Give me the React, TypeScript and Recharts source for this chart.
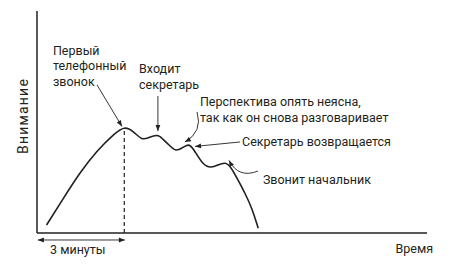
import React from 'react';
import { LineChart, Line, XAxis, YAxis, ReferenceLine, ReferenceDot } from 'recharts';

// кривая внимания: время (минуты) и уровень внимания (0..100)
const time = [0.33, 0.91, 1.48, 2.06, 2.63, 3.01, 3.32, 3.61, 3.86, 4.14, 4.34, 4.59, 4.79, 5.0, 5.21, 5.41, 5.72, 6.0, 6.24, 6.48, 6.69, 6.93, 7.17, 7.41, 7.63];
const attention = [3.6, 15.6, 26.9, 36.6, 44.1, 47.2, 45.6, 42.6, 43.0, 43.9, 42.3, 39.2, 37.4, 38.3, 39.6, 37.4, 31.5, 29.7, 30.6, 31.4, 29.3, 23.9, 17.9, 10.8, 2.1];

const firstCall = { x: 3.01, y: 47.2 };

const noteTexts = [
  ['Первый', 'телефонный', 'звонок'],
  ['Входит', 'секретарь'],
  ['Перспектива опять неясна,', 'так как он снова разговаривает'],
  ['Секретарь возвращается'],
  ['Звонит начальник'],
];
const noteX = [0.55, 3.52, 5.62, 7.07, 7.79];
const noteY = [80.2, 71.9, 57.0, 39.2, 22.1];

// стрелки: начало -> конец, изгиб
const arrowFrom = [
  { x: 2.07, y: 66.7 },
  { x: 4.17, y: 61.7 },
  { x: 5.52, y: 54.5 },
  { x: 7.0, y: 41.0 },
  { x: 7.62, y: 27.9 },
];
const arrowTo = [
  { x: 2.93, y: 48.0 },
  { x: 4.17, y: 45.9 },
  { x: 5.1, y: 41.0 },
  { x: 5.45, y: 39.0 },
  { x: 6.62, y: 32.7 },
];
const arrowBend = [0, 0, 0.4, 0, 0.45];

const spanLabel = '3 минуты';
const spanFrom = 0.03;
const spanTo = 3.03;
const xTitle = 'Время';
const yTitle = 'Внимание';

const data = time.map((t, i) => ({ t, v: attention[i] }));

const INK = '#231f20';
const FONT = 'Roboto, sans-serif';

function head(x: number, y: number, fx: number, fy: number) {
  const dx = x - fx;
  const dy = y - fy;
  const len = Math.sqrt(dx * dx + dy * dy) || 1;
  const ux = dx / len;
  const uy = dy / len;
  const L = 6;
  const W = 2.4;
  const bx = x - ux * L;
  const by = y - uy * L;
  return `M${x},${y} L${bx - uy * W},${by + ux * W} L${bx + uy * W},${by - ux * W} Z`;
}

const Arrow = (props: any) => {
  const { x1, y1, x2, y2, bend = 0, both = false } = props;
  if ([x1, y1, x2, y2].some((v) => v == null || isNaN(v))) return null;
  const mx = (x1 + x2) / 2;
  const my = (y1 + y2) / 2;
  const dx = x2 - x1;
  const dy = y2 - y1;
  const cx = mx + dy * bend;
  const cy = my - dx * bend;
  const d = bend ? `M${x1},${y1} Q${cx},${cy} ${x2},${y2}` : `M${x1},${y1} L${x2},${y2}`;
  return (
    <g>
      <path d={d} fill="none" stroke={INK} strokeWidth={0.9} />
      <path d={head(x2, y2, bend ? cx : x1, bend ? cy : y1)} fill={INK} />
      {both && <path d={head(x1, y1, x2, y2)} fill={INK} />}
    </g>
  );
};

const Note = ({ cx, cy, lines, anchor = 'start', rotate = false, size = 12.5, spacing = 0 }: any) => {
  if (cx == null || cy == null) return null;
  return (
    <text
      x={cx}
      y={cy}
      fill={INK}
      fontFamily={FONT}
      fontSize={size}
      letterSpacing={spacing}
      textAnchor={anchor}
      dominantBaseline={rotate ? 'central' : 'auto'}
      transform={rotate ? `rotate(-90 ${cx} ${cy})` : undefined}
    >
      {lines.map((s: string, i: number) => (
        <tspan key={i} x={cx} dy={i === 0 ? 0 : 15.5}>
          {s}
        </tspan>
      ))}
    </text>
  );
};

export default function App() {
  return (
    <div style={{ position: 'absolute', left: 0, top: 0, width: 464, height: 277, background: '#fff' }}>
      <LineChart width={464} height={277} data={data} margin={{ top: 11, right: 37, bottom: 44, left: 37 }}>
        <XAxis type="number" dataKey="t" domain={[0, 13.45]} hide />
        <YAxis type="number" domain={[0, 100]} hide />
        <ReferenceLine x={0} stroke={INK} strokeWidth={1.5} />
        <ReferenceLine y={0} stroke={INK} strokeWidth={1.5} />
        <ReferenceLine
          segment={[{ x: firstCall.x, y: 0 }, firstCall]}
          stroke={INK}
          strokeWidth={1.2}
          strokeDasharray="4 3"
        />
        <Line
          type="natural"
          dataKey="v"
          stroke={INK}
          strokeWidth={1.6}
          dot={false}
          activeDot={false}
          isAnimationActive={false}
        />
        {arrowFrom.map((a, i) => (
          <ReferenceLine
            key={'a' + i}
            segment={[a, arrowTo[i]]}
            ifOverflow="visible"
            shape={(p: any) => <Arrow {...p} bend={arrowBend[i]} />}
          />
        ))}
        <ReferenceLine
          segment={[{ x: spanFrom, y: -3.15 }, { x: spanTo, y: -3.15 }]}
          ifOverflow="visible"
          shape={(p: any) => <Arrow {...p} both />}
        />
        {noteTexts.map((lines, i) => (
          <ReferenceDot
            key={'n' + i}
            x={noteX[i]}
            y={noteY[i]}
            ifOverflow="visible"
            shape={(p: any) => <Note {...p} lines={lines} />}
          />
        ))}
        <ReferenceDot x={0.45} y={-9.5} ifOverflow="visible" shape={(p: any) => <Note {...p} lines={[spanLabel]} />} />
        <ReferenceDot
          x={13.66}
          y={-9.0}
          ifOverflow="visible"
          shape={(p: any) => <Note {...p} lines={[xTitle]} anchor="end" />}
        />
        <ReferenceDot
          x={-0.48}
          y={52.7}
          ifOverflow="visible"
          shape={(p: any) => <Note {...p} lines={[yTitle]} anchor="middle" rotate size={14} spacing={1.2} />}
        />
      </LineChart>
    </div>
  );
}
